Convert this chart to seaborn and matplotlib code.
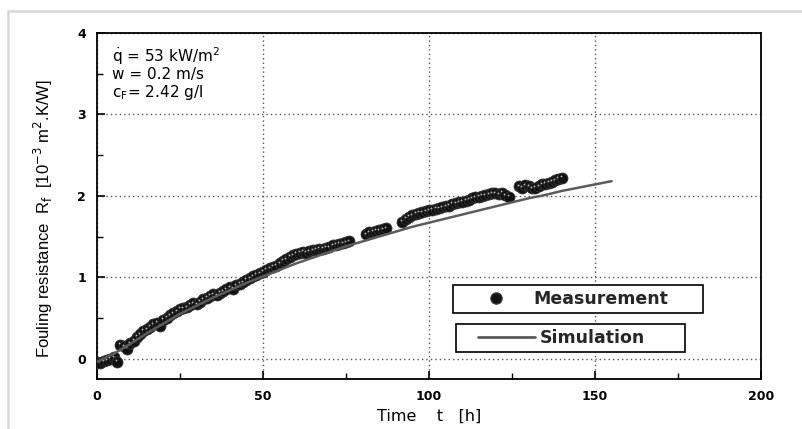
import numpy as np
import pandas as pd
import matplotlib
matplotlib.use("Agg")
import matplotlib.pyplot as plt
import matplotlib.transforms as mtransforms
from matplotlib.lines import Line2D
from matplotlib.legend_handler import HandlerLine2D
import seaborn as sns

# ---------------- data ----------------
meas_t = [0, 1, 2, 3, 4, 5, 6, 7, 8, 9, 10, 11, 12, 13, 14, 15, 16, 17, 18, 19,
          20, 21, 22, 23, 24, 25, 26, 27, 28, 29, 30, 31, 32, 33, 34, 35, 36, 37, 38, 39,
          40, 41, 42, 43, 44, 45, 46, 47, 48, 49, 50, 51, 52, 53, 54, 55, 56, 57, 58, 59,
          60, 61, 62, 63, 64, 65, 66, 67, 68, 69, 70, 71, 72, 73, 74, 75, 76,
          81, 82, 83, 84, 85, 86, 87,
          92, 93, 94, 95, 96, 97, 98, 99, 100, 101, 102, 103, 104, 105, 106, 107, 108,
          109, 110, 111, 112, 113, 114, 115, 116, 117, 118, 119, 120, 121, 122, 123, 124,
          127, 128, 129, 130, 131, 132, 133, 134, 135, 136, 137, 138, 139, 140]
meas_R = [-0.04, -0.05, -0.03, -0.02, 0.00, 0.02, -0.04, 0.17, 0.15, 0.12, 0.19, 0.22, 0.27, 0.30, 0.34, 0.36, 0.39, 0.42, 0.44, 0.40,
          0.48, 0.50, 0.53, 0.56, 0.58, 0.61, 0.62, 0.63, 0.66, 0.68, 0.67, 0.70, 0.73, 0.75, 0.77, 0.79, 0.78, 0.81, 0.83, 0.85,
          0.88, 0.86, 0.90, 0.92, 0.94, 0.97, 0.99, 1.01, 1.03, 1.05, 1.07, 1.09, 1.11, 1.13, 1.14, 1.17, 1.20, 1.22, 1.25, 1.27,
          1.29, 1.30, 1.31, 1.30, 1.32, 1.33, 1.34, 1.35, 1.35, 1.36, 1.37, 1.39, 1.40, 1.41, 1.42, 1.43, 1.44,
          1.53, 1.55, 1.56, 1.57, 1.58, 1.59, 1.60,
          1.68, 1.72, 1.74, 1.76, 1.78, 1.79, 1.80, 1.81, 1.82, 1.83, 1.84, 1.85, 1.86, 1.87, 1.88, 1.90, 1.91,
          1.92, 1.93, 1.94, 1.95, 1.97, 1.98, 1.99, 2.00, 2.01, 2.02, 2.03, 2.03, 2.02, 2.04, 2.01, 1.99,
          2.12, 2.10, 2.13, 2.12, 2.09, 2.10, 2.12, 2.14, 2.15, 2.16, 2.17, 2.19, 2.21, 2.22]

sim_t = [0, 5, 10, 15, 20, 25, 30, 35, 40, 45, 50, 55, 60, 65, 70, 75, 80, 85,
         90, 95, 100, 105, 110, 115, 120, 125, 130, 135, 140, 145, 150, 155]
sim_R = [-0.04, 0.06, 0.18, 0.31, 0.43, 0.55, 0.65, 0.75, 0.84, 0.93, 1.01, 1.09,
         1.17, 1.24, 1.31, 1.38, 1.44, 1.50, 1.56, 1.62, 1.67, 1.72, 1.77, 1.82,
         1.87, 1.92, 1.97, 2.01, 2.06, 2.10, 2.14, 2.18]

x_ticks = [0, 50, 100, 150, 200]
y_ticks = [0, 1, 2, 3, 4]
x_minor = [25, 75, 125, 175]
y_minor = [0.5, 1.5, 2.5, 3.5]

legend_labels = ["Measurement", "Simulation"]
info_lines = [r"$\dot{\mathrm{q}}$ = 53 kW/m$^2$", "w = 0.2 m/s", r"c$_\mathrm{F}$= 2.42 g/l"]

# ---------------- style ----------------
sns.set_theme(style="ticks")
plt.rcParams["font.family"] = ["DejaVu Sans"]
plt.rcParams["mathtext.fontset"] = "dejavusans"

W, H = 803, 429
fig = plt.figure(figsize=(W / 100, H / 100), dpi=100)
fig.patch.set_facecolor("white")
ax = fig.add_axes([97 / W, 1 - 379 / H, 664 / W, 346 / H])
ax.set_facecolor("white")

meas = pd.DataFrame({"t": meas_t, "R": meas_R})
sim = pd.DataFrame({"t": sim_t, "R": sim_R})

sns.scatterplot(data=meas, x="t", y="R", ax=ax, s=62, color="#111111",
                edgecolor="#333333", linewidth=0.6, zorder=3, legend=False)
off = mtransforms.offset_copy(ax.transData, fig=fig, x=-1.0, y=1.5, units="dots")
ax.scatter(meas_t, meas_R, s=1.6, color="#bdbdbd", linewidths=0, transform=off, zorder=3.5)
sns.lineplot(data=sim, x="t", y="R", ax=ax, color="#5c5c5c", lw=1.8, zorder=4)

ax.set_xlim(0, 200)
ax.set_ylim(-0.25, 4)
ax.set_xticks(x_ticks)
ax.set_yticks(y_ticks)
ax.set_xticks(x_minor, minor=True)
ax.set_yticks(y_minor, minor=True)
ax.set_xticklabels([str(v) for v in x_ticks], fontweight="bold", fontsize=9)
ax.set_yticklabels([str(v) for v in y_ticks], fontweight="bold", fontsize=9)
ax.tick_params(which="major", direction="in", length=6, width=1.2, pad=8, colors="black")
ax.tick_params(which="minor", direction="in", length=4, width=1.0, colors="black")

ax.grid(True, which="major", linestyle=(0, (1, 2.2)), color="#555555", linewidth=1.0)
for s in ax.spines.values():
    s.set_color("black")
    s.set_linewidth(1.3)

ax.set_xlabel("Time    t   [h]", fontsize=11.5, color="black")
ax.xaxis.set_label_coords(0.5, -0.085)
ax.set_ylabel(r"Fouling resistance  R$_\mathrm{f}$  [10$^{-3}$ m$^2$.K/W]",
              fontsize=12, family=["Liberation Sans", "DejaVu Sans"], color="black")
ax.yaxis.set_label_coords(-0.064, 0.465)

for yy, txt in zip([0.933, 0.879, 0.829], info_lines):
    ax.text(0.0226, yy, txt, transform=ax.transAxes, fontsize=11, va="center", ha="left",
            color="black")

# ---------------- legends (two separate boxes) ----------------
prop = {"weight": "bold", "size": 12.5}
h_meas = Line2D([], [], ls="none", marker="o", ms=8, mfc="#111111", mec="#333333")
leg1 = ax.legend([h_meas], [legend_labels[0]], loc="upper left",
                 bbox_to_anchor=(0.536, 0.2717, 0.3765, 0), mode="expand",
                 borderaxespad=0, borderpad=0.3, handlelength=4.4, handletextpad=-0.05,
                 prop=prop, frameon=True, fancybox=False, framealpha=1,
                 edgecolor="black")
leg1.get_frame().set_linewidth(1.2)
ax.add_artist(leg1)

h_sim = Line2D([], [], color="#5c5c5c", lw=2)
leg2 = ax.legend([h_sim], [legend_labels[1]], loc="upper left",
                 bbox_to_anchor=(0.5407, 0.159, 0.3449, 0), mode="expand",
                 borderaxespad=0, borderpad=0.3, handlelength=4.24, handletextpad=0.29,
                 prop=prop, frameon=True, fancybox=False, framealpha=1,
                 edgecolor="black", handler_map={Line2D: HandlerLine2D(xpad=0.97)})
leg2.get_frame().set_linewidth(1.2)

# light grey outer frame of the original figure
fig.add_artist(Line2D([8 / W, 1], [1 - 11 / H, 1 - 11 / H], transform=fig.transFigure,
                      color="#d8d8d8", lw=1.8))
fig.add_artist(Line2D([8 / W, 8 / W], [0, 1 - 11 / H], transform=fig.transFigure,
                      color="#d8d8d8", lw=1.8))

fig.savefig("out.png", dpi=100)
